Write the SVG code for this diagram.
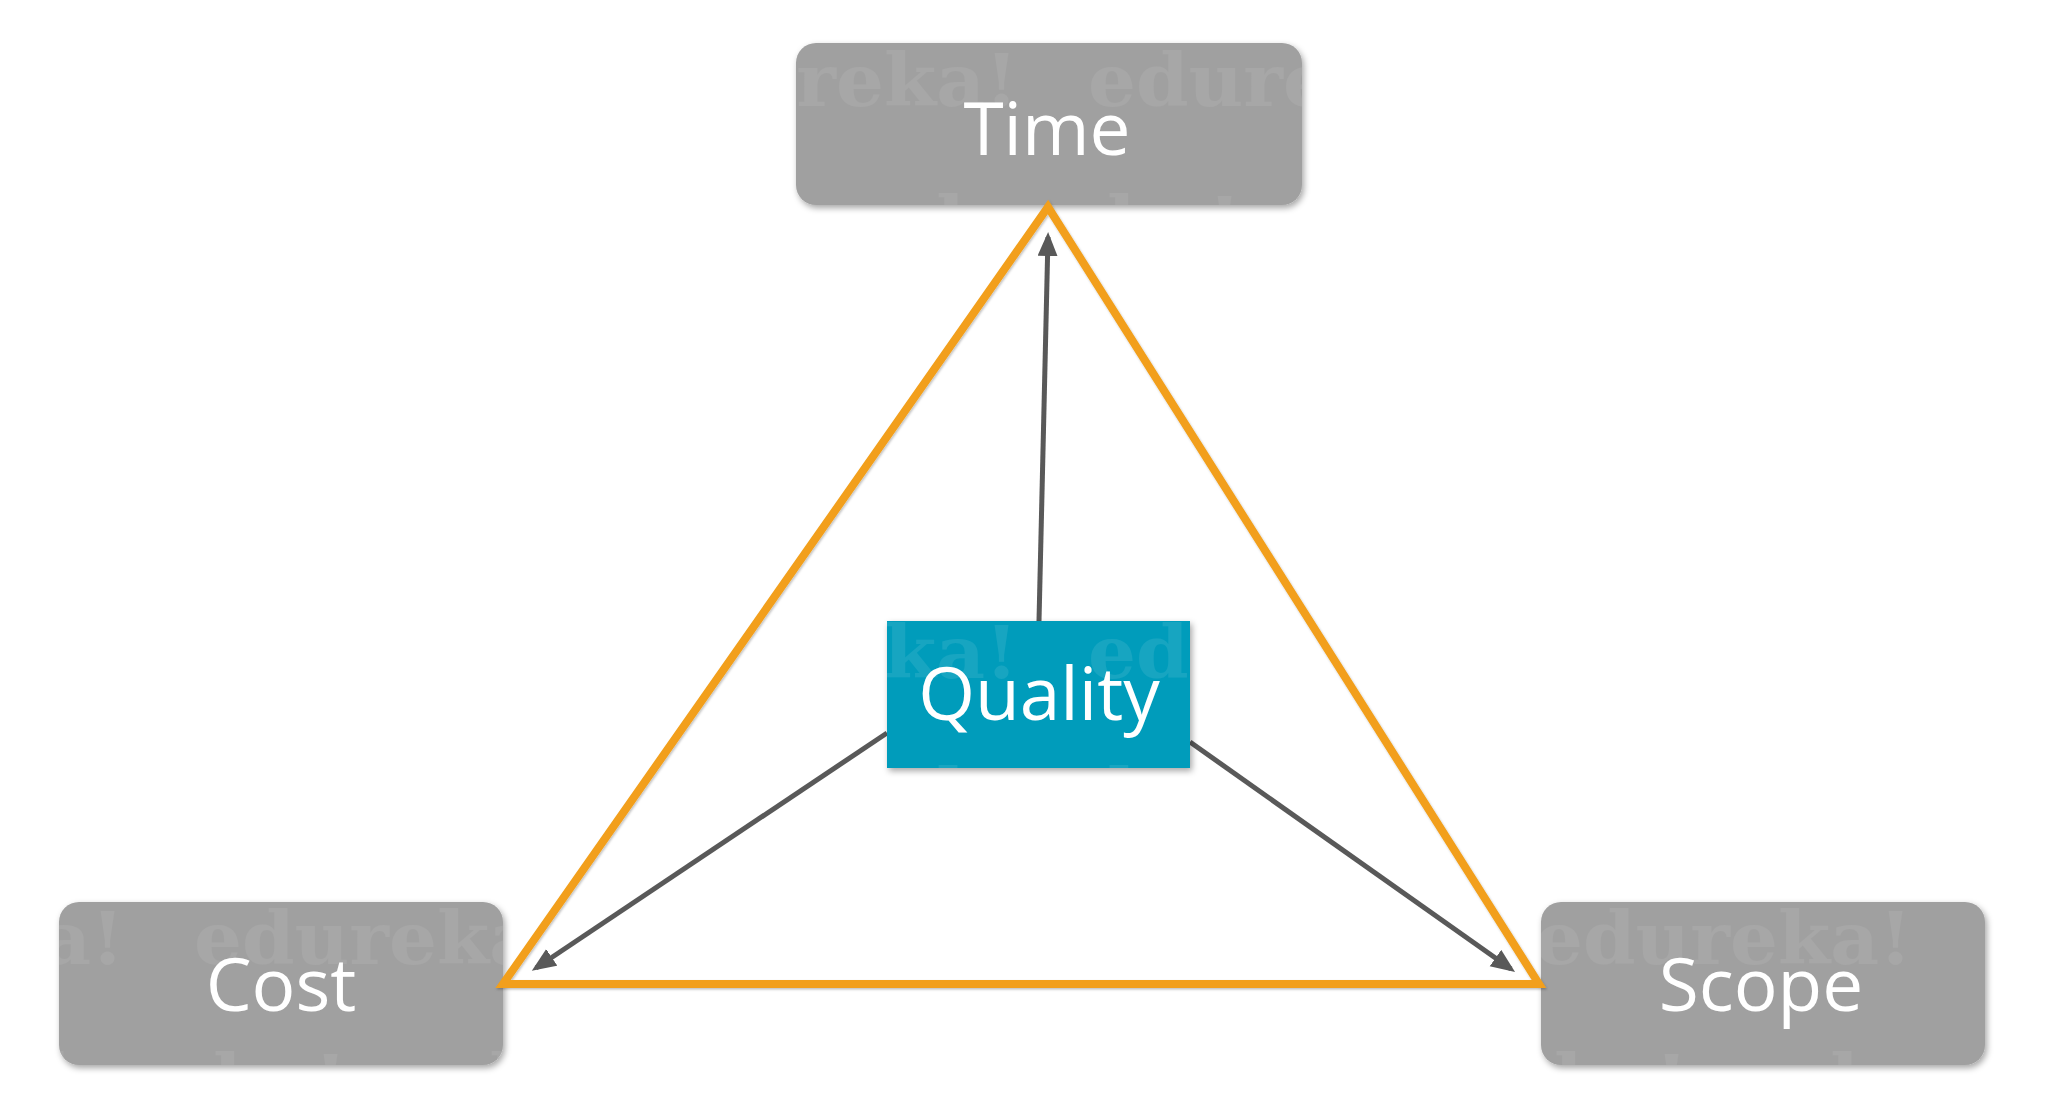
<svg xmlns="http://www.w3.org/2000/svg" width="2048" height="1094" viewBox="0 0 2048 1094">
  <style>
    .box { fill: #A0A0A0; }
    .lbl { font-family: "Open Sans", "Noto Sans", sans-serif; font-size: 73px; fill: #FFFFFF; text-anchor: middle; }
    .wm { font-family: "DejaVu Serif", serif; font-weight: bold; font-size: 72px; fill: #FFFFFF; }
    .tri { fill: none; stroke: #F29F1A; stroke-width: 8; stroke-linejoin: miter; }
    .arr { fill: none; stroke: #595959; stroke-width: 5; }
  </style>
  <defs>
    <filter id="sh" x="-10%" y="-10%" width="120%" height="130%">
      <feDropShadow dx="2" dy="3" stdDeviation="3" flood-color="#000" flood-opacity="0.35"/>
    </filter>
    <filter id="shs" x="-10%" y="-10%" width="120%" height="120%">
      <feDropShadow dx="1" dy="1.5" stdDeviation="1.2" flood-color="#000" flood-opacity="0.25"/>
    </filter>
    <pattern id="wm" patternUnits="userSpaceOnUse" x="194" y="6" width="447" height="286">
      <text class="wm" x="0" y="100" textLength="377" lengthAdjust="spacingAndGlyphs">edureka!</text>
      <text class="wm" x="223" y="243" textLength="377" lengthAdjust="spacingAndGlyphs">edureka!</text>
      <text class="wm" x="-224" y="243" textLength="377" lengthAdjust="spacingAndGlyphs">edureka!</text>
    </pattern>
    <marker id="ah" markerUnits="userSpaceOnUse" markerWidth="26" markerHeight="22" refX="19" refY="10" orient="auto">
      <path d="M0,0 L24,10 L0,20 z" fill="#595959"/>
    </marker>
  </defs>

  <g id="time">
    <rect class="box" x="796" y="43" width="506" height="162" rx="20" filter="url(#sh)"/>
    <rect x="796" y="43" width="506" height="162" rx="20" fill="url(#wm)" opacity="0.07"/>
    <text class="lbl" x="1047" y="155">Time</text>
  </g>

  <g id="cost">
    <rect class="box" x="59" y="902" width="444" height="163" rx="20" filter="url(#sh)"/>
    <rect x="59" y="902" width="444" height="163" rx="20" fill="url(#wm)" opacity="0.07"/>
    <text class="lbl" x="281" y="1011">Cost</text>
  </g>

  <g id="scope">
    <rect class="box" x="1541" y="902" width="444" height="163" rx="20" filter="url(#sh)"/>
    <rect x="1541" y="902" width="444" height="163" rx="20" fill="url(#wm)" opacity="0.07"/>
    <text class="lbl" x="1761" y="1011">Scope</text>
  </g>

  <g id="connectors">
    <polygon class="tri" points="1048,207 1539,984 503,984" filter="url(#shs)"/>
    <line class="arr" x1="1039" y1="621" x2="1048" y2="237" marker-end="url(#ah)"/>
    <line class="arr" x1="887" y1="733" x2="536" y2="968" marker-end="url(#ah)"/>
    <line class="arr" x1="1190" y1="742" x2="1511" y2="969" marker-end="url(#ah)"/>
  </g>

  <g id="quality">
    <rect x="887" y="621" width="303" height="147" fill="#049CBB" filter="url(#sh)"/>
    <rect x="887" y="621" width="303" height="147" fill="url(#wm)" opacity="0.09"/>
    <text class="lbl" x="1039" y="720">Quality</text>
  </g>
</svg>
